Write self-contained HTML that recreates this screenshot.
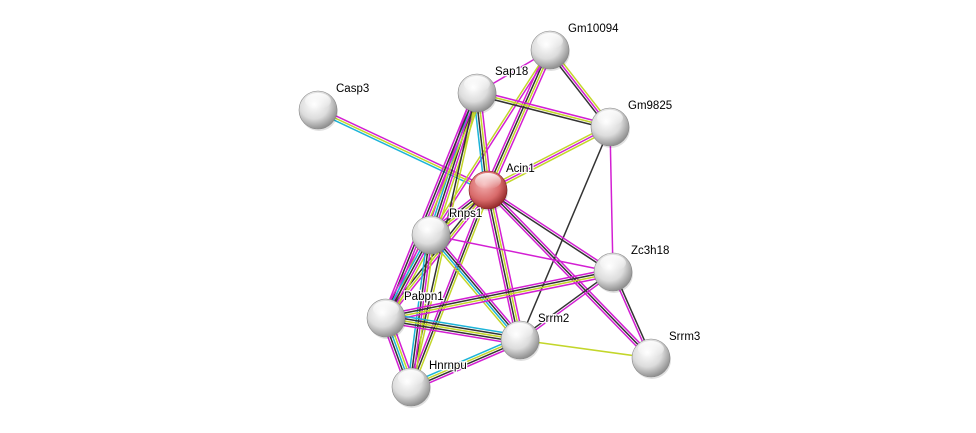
<!DOCTYPE html>
<html><head><meta charset="utf-8"><style>
body{margin:0;background:#fff;}
svg{display:block;font-family:"Liberation Sans",sans-serif;}
</style></head><body>
<svg id="s" width="976" height="433" viewBox="0 0 976 433">
<defs>
<radialGradient id="g" cx="0.4" cy="0.35" r="0.7">
<stop offset="0" stop-color="#ffffff"/><stop offset="0.55" stop-color="#dcdcdc"/><stop offset="1" stop-color="#848484"/>
</radialGradient>
<radialGradient id="r" cx="0.4" cy="0.35" r="0.7">
<stop offset="0" stop-color="#f4b0b0"/><stop offset="0.6" stop-color="#d86a6a"/><stop offset="1" stop-color="#8a2020"/>
</radialGradient>
<linearGradient id="h" x1="0" y1="0" x2="0" y2="1">
<stop offset="0" stop-color="#fff" stop-opacity="0.9"/><stop offset="1" stop-color="#fff" stop-opacity="0"/>
</linearGradient>
</defs>
<g id="e"></g><g id="n"></g>
</svg>
<script>
var N={Gm10094:[550,50],Sap18:[477,93],Casp3:[318,110],Gm9825:[610,127],Acin1:[488,190],Rnps1:[431,235],Zc3h18:[613,272],Pabpn1:[386,318],Srrm2:[520,340],Srrm3:[651,358],Hnrnpu:[411,387]};
var M="#d31fd3",Y="#c3d62a",C="#1cb4d8",K="#333",B="#4444ff";
var E=[
["Casp3","Acin1",[M,Y,C]],
["Gm10094","Sap18",[M]],
["Gm10094","Gm9825",[Y,M,K]],
["Gm10094","Acin1",[M,Y,K,M]],
["Gm10094","Rnps1",[M,Y]],
["Sap18","Gm9825",[M,Y,K]],
["Sap18","Acin1",[M,Y,K,C]],
["Sap18","Rnps1",[Y,M,K,C,M]],
["Sap18","Pabpn1",[Y,M,K,M]],
["Sap18","Hnrnpu",[Y,K]],
["Gm9825","Acin1",[Y,M,Y]],
["Gm9825","Zc3h18",[M]],
["Gm9825","Srrm2",[K]],
["Acin1","Rnps1",[M,Y,K,M]],
["Acin1","Pabpn1",[M,Y,K]],
["Acin1","Hnrnpu",[Y,K,M]],
["Acin1","Srrm2",[M,Y,K,M]],
["Acin1","Zc3h18",[M,K]],
["Acin1","Srrm3",[M,K,M]],
["Rnps1","Zc3h18",[M]],
["Rnps1","Pabpn1",[Y,M,K,C,M]],
["Rnps1","Hnrnpu",[Y,M,K,C]],
["Rnps1","Srrm2",[M,K,C,Y]],
["Zc3h18","Pabpn1",[M,Y,K,M]],
["Zc3h18","Srrm2",[M,K]],
["Zc3h18","Srrm3",[K,M]],
["Pabpn1","Srrm2",[C,K,Y,K,M]],
["Pabpn1","Hnrnpu",[M,Y,C,K,M]],
["Srrm2","Hnrnpu",[M,K,Y,C]],
["Srrm2","Srrm3",[Y]]
];
var ns="http://www.w3.org/2000/svg",eg=document.getElementById("e"),ng=document.getElementById("n");
function el(t,a,p){var x=document.createElementNS(ns,t);for(var k in a)x.setAttribute(k,a[k]);p.appendChild(x);return x;}
E.forEach(function(d){var a=N[d[0]],b=N[d[1]],dx=b[0]-a[0],dy=b[1]-a[1],L=Math.hypot(dx,dy),px=-dy/L,py=dx/L,n=d[2].length;
d[2].forEach(function(c,i){var o=(i-(n-1)/2)*2.3;el("line",{x1:a[0]+px*o,y1:a[1]+py*o,x2:b[0]+px*o,y2:b[1]+py*o,stroke:c,"stroke-width":1.5},eg);});});
for(var k in N){var p=N[k],r=19;
el("circle",{cx:p[0]+1,cy:p[1]+2,r:r,fill:"#000",opacity:0.12},ng);
el("circle",{cx:p[0],cy:p[1],r:r,fill:k=="Acin1"?"url(#r)":"url(#g)",stroke:k=="Acin1"?"#7a2020":"#888","stroke-width":0.6},ng);
el("ellipse",{cx:p[0],cy:p[1]-9,rx:13,ry:8,fill:"url(#h)"},ng);}
for(var k in N){var p=N[k];
var t=el("text",{x:p[0]+18,y:p[1]-18,"font-size":11.5,fill:"#000",stroke:"#fff","stroke-width":2.5,"paint-order":"stroke"},ng);t.textContent=k;}
</script>
</body></html>
